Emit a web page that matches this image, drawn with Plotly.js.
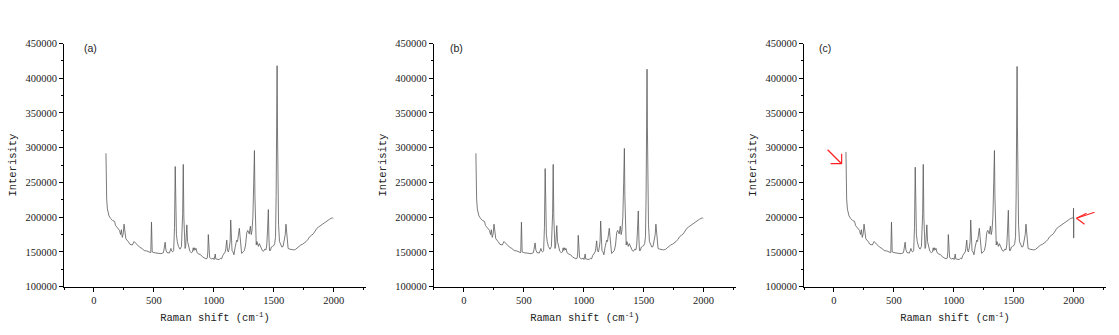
<!DOCTYPE html>
<html>
<head>
<meta charset="utf-8">
<script src="https://cdn.plot.ly/plotly-3.0.1.min.js"></script>
<style>html,body{margin:0;padding:0;background:#fff;}#chart{width:1119px;height:335px;}</style>
</head>
<body>
<div id="chart"></div>
<script>
// Raman shift (cm^-1) sample positions
var ramanShift = [100,103,106,112,125,140,157,172,180,195,213,222,229,236,244,251,258,266,285,300,320,335,346,360,380,400,420,440,460,474,480,486,500,520,540,560,580,588,594,600,610,630,642,650,656,665,672,678,683,688,695,705,718,730,740,745,750,755,760,765,770,775,781,792,800,812,822,828,834,840,846,852,860,875,890,905,920,935,945,950,954,958,965,980,995,1002,1008,1012,1016,1025,1035,1045,1055,1065,1075,1085,1095,1100,1108,1114,1122,1130,1136,1141,1146,1152,1160,1168,1178,1185,1191,1198,1205,1213,1219,1225,1232,1245,1255,1265,1275,1283,1289,1296,1305,1312,1318,1326,1333,1339,1343,1348,1354,1360,1366,1372,1380,1388,1395,1405,1415,1425,1435,1442,1448,1455,1460,1465,1472,1480,1490,1500,1508,1515,1520,1524,1528,1531,1535,1540,1548,1558,1568,1578,1588,1596,1602,1607,1612,1620,1635,1650,1665,1680,1695,1710,1725,1740,1755,1770,1785,1800,1815,1830,1845,1860,1875,1890,1905,1920,1935,1950,1965,1980,1990,1997];

// Panel (a) intensities
var intensityA = [292000,250000,226000,212000,202000,198000,195000,194000,188000,185000,181000,175000,182000,171000,176000,190000,175000,169000,165000,161000,160000,165000,163000,160000,157000,155000,152000,151500,150500,149000,193000,150000,149000,148500,148000,147500,149000,155000,164000,153000,149000,148500,155000,151000,150000,152000,185000,273000,200000,175000,165000,158000,154000,158000,205000,276000,200000,165000,155000,158000,170000,189000,165000,155000,151000,149000,150000,156000,152000,156000,153000,155000,149000,147000,146000,143000,141000,140000,141000,150000,175000,148000,142000,140000,141000,139000,146000,147000,140000,139500,140000,139000,141000,140000,145000,147000,150000,155000,167000,152000,150000,157000,165000,196000,160000,152000,150000,146000,157000,163000,167000,165000,175000,184000,172000,155000,148000,150000,152000,160000,178000,181000,178000,176000,187000,175000,180000,200000,250000,296000,230000,175000,160000,165000,160000,158000,162000,158000,155000,152000,151000,154000,153000,160000,180000,211000,170000,152000,152000,157000,158000,159000,162000,172000,230000,380000,418000,330000,250000,190000,165000,160000,157000,158000,165000,175000,190000,178000,160000,155000,154000,153000,153000,153500,156000,158000,160000,161000,162500,165000,168000,172000,174000,176000,180000,184000,186000,188000,190000,192000,194000,196000,197000,198500,199000,198000];

// Panel (b) intensities
var intensityB = [292000,250000,226000,212000,202000,198000,195000,194000,188000,185000,181000,175000,182000,171000,176000,190000,175000,169000,165000,161000,160000,165000,163000,160000,157000,155000,152000,151500,150500,149000,193000,150000,149000,148500,148000,147500,149000,155000,163000,153000,149000,148500,155000,151000,150000,152000,185000,270000,200000,175000,165000,158000,154000,158000,205000,276000,200000,165000,155000,158000,170000,188000,165000,155000,151000,149000,150000,156000,152000,156000,153000,155000,149000,147000,146000,143000,141000,140000,141000,150000,174000,148000,142000,140000,141000,139000,146000,147000,140000,139500,140000,139000,141000,140000,145000,147000,150000,155000,166000,152000,150000,157000,165000,194500,160000,152000,150000,146000,157000,163000,167000,165000,175000,184000,172000,155000,148000,150000,152000,160000,178000,181000,178000,176000,187000,175000,180000,200000,250000,299000,230000,175000,160000,165000,160000,158000,162000,158000,155000,152000,151000,154000,153000,160000,180000,209000,170000,152000,152000,157000,158000,159000,162000,172000,230000,375000,413000,330000,250000,190000,165000,160000,157000,158000,165000,175000,190000,178000,160000,155000,154000,153000,153000,153500,156000,158000,160000,161000,162500,165000,168000,172000,174000,176000,180000,184000,186000,188000,190000,192000,194000,196000,197000,198500,199000,198000];

// Panel (c) intensities, plus the spike at the right end
var intensityC = [294000,234000,226000,212000,202000,198000,195000,194000,188000,185000,181000,175000,182000,171000,176000,190000,175000,169000,165000,161000,160000,165000,163000,160000,157000,155000,152000,151500,150500,149000,193000,150000,149000,148500,148000,147500,149000,155000,164000,153000,149000,148500,155000,151000,150000,152000,185000,272000,200000,175000,165000,158000,154000,158000,205000,276000,200000,165000,155000,158000,170000,189000,165000,155000,151000,149000,150000,156000,152000,156000,153000,155000,149000,147000,146000,143000,141000,140000,141000,150000,175000,148000,142000,140000,141000,139000,146000,147000,140000,139500,140000,139000,141000,140000,145000,147000,150000,155000,167000,152000,150000,157000,165000,196000,160000,152000,150000,146000,157000,163000,167000,165000,175000,184000,172000,155000,148000,150000,152000,160000,178000,181000,178000,176000,187000,175000,180000,200000,250000,296000,230000,175000,160000,165000,160000,158000,162000,158000,155000,152000,151000,154000,153000,160000,180000,210000,170000,152000,152000,157000,158000,159000,162000,172000,230000,380000,417000,330000,250000,190000,165000,160000,157000,158000,165000,175000,190000,178000,160000,155000,154000,153000,153000,153500,156000,158000,160000,161000,162500,165000,168000,172000,174000,176000,180000,184000,186000,188000,190000,192000,194000,196000,197000,198500,199000,198000];
var spikeShift = [1999, 2000, 2001];
var spikeIntensity = [213000, 170000, 199000];

var panelLabels = ['(a)', '(b)', '(c)'];
var xTickVals = [0, 500, 1000, 1500, 2000];
var yTickVals = [100000, 150000, 200000, 250000, 300000, 350000, 400000, 450000];

// points in panel (c) that the red arrows mark
var arrowTargetsShift = [64, 2024];
var arrowTargetsIntensity = [277000, 198500];

var shiftC = ramanShift.concat(spikeShift);
var yC = intensityC.concat(spikeIntensity);

var lineStyle = {color: '#595959', width: 0.8};
var traces = [
  {x: ramanShift, y: intensityA, xaxis: 'x', yaxis: 'y', mode: 'lines', line: lineStyle, hoverinfo: 'skip'},
  {x: ramanShift, y: intensityB, xaxis: 'x2', yaxis: 'y2', mode: 'lines', line: lineStyle, hoverinfo: 'skip'},
  {x: shiftC, y: yC, xaxis: 'x3', yaxis: 'y3', mode: 'lines', line: lineStyle, hoverinfo: 'skip'}
];

var tickFont = {family: 'Liberation Serif, serif', size: 10.5, color: '#222'};
var titleFont = {family: 'Liberation Mono, monospace', size: 10.5, color: '#222'};

function xAxis(domain, anchor) {
  return {
    domain: domain, anchor: anchor, range: [-250, 2270],
    tickvals: xTickVals, ticks: 'outside', ticklen: 4, tickwidth: 1, tickcolor: '#000',
    minor: {dtick: 250, tick0: 0, ticks: 'outside', ticklen: 2, tickcolor: '#000'},
    showline: true, linecolor: '#000', linewidth: 1, showgrid: false, zeroline: false,
    tickfont: tickFont,
    title: {text: 'Raman shift (cm<sup>-1</sup>)', font: titleFont, standoff: 8},
    automargin: false, fixedrange: true
  };
}
function yAxis(anchor) {
  return {
    domain: [0.1442, 0.8701], anchor: anchor, range: [100000, 450000],
    tickvals: yTickVals, tickformat: 'd', ticks: 'outside', ticklen: 4, tickwidth: 1, tickcolor: '#000',
    minor: {dtick: 25000, tick0: 100000, ticks: 'outside', ticklen: 2, tickcolor: '#000'},
    showline: true, linecolor: '#000', linewidth: 1, showgrid: false, zeroline: false,
    tickfont: tickFont,
    title: {text: 'Interisity', font: titleFont, standoff: 6},
    automargin: false, fixedrange: true
  };
}

var labelFont = {family: 'Liberation Sans, sans-serif', size: 10.5, color: '#222'};
var red = '#ff2020';
// arrow strokes anchored on the marked data points, sized in pixels
function seg(i, px, py) {
  return {type: 'line', xref: 'x3', yref: 'y3', xsizemode: 'pixel', ysizemode: 'pixel',
    xanchor: arrowTargetsShift[i], yanchor: arrowTargetsIntensity[i],
    x0: 0, y0: 0, x1: px, y1: py, line: {color: red, width: 1.2}};
}

var annotations = [
  {text: panelLabels[0], xref: 'x domain', yref: 'y domain', x: 0.06, y: 0.98, xanchor: 'left', yanchor: 'middle', showarrow: false, font: labelFont},
  {text: panelLabels[1], xref: 'x2 domain', yref: 'y2 domain', x: 0.046, y: 0.98, xanchor: 'left', yanchor: 'middle', showarrow: false, font: labelFont},
  {text: panelLabels[2], xref: 'x3 domain', yref: 'y3 domain', x: 0.043, y: 0.98, xanchor: 'left', yanchor: 'middle', showarrow: false, font: labelFont}
];

var shapes = [
  seg(0, -14, 14), seg(0, -11, 0), seg(0, 0, 10),
  seg(1, 18, 6), seg(1, 10, 5), seg(1, 8, -6)
];

var layout = {
  width: 1119, height: 335,
  margin: {l: 0, r: 0, t: 0, b: 0},
  paper_bgcolor: '#fff', plot_bgcolor: '#fff',
  showlegend: false,
  xaxis: xAxis([0.0572, 0.3271], 'y'),
  yaxis: yAxis('x'),
  xaxis2: xAxis([0.3878, 0.6577], 'y2'),
  yaxis2: yAxis('x2'),
  xaxis3: xAxis([0.7185, 0.9884], 'y3'),
  yaxis3: yAxis('x3'),
  annotations: annotations,
  shapes: shapes
};

Plotly.newPlot('chart', traces, layout, {staticPlot: true, displayModeBar: false});
</script>
</body>
</html>
